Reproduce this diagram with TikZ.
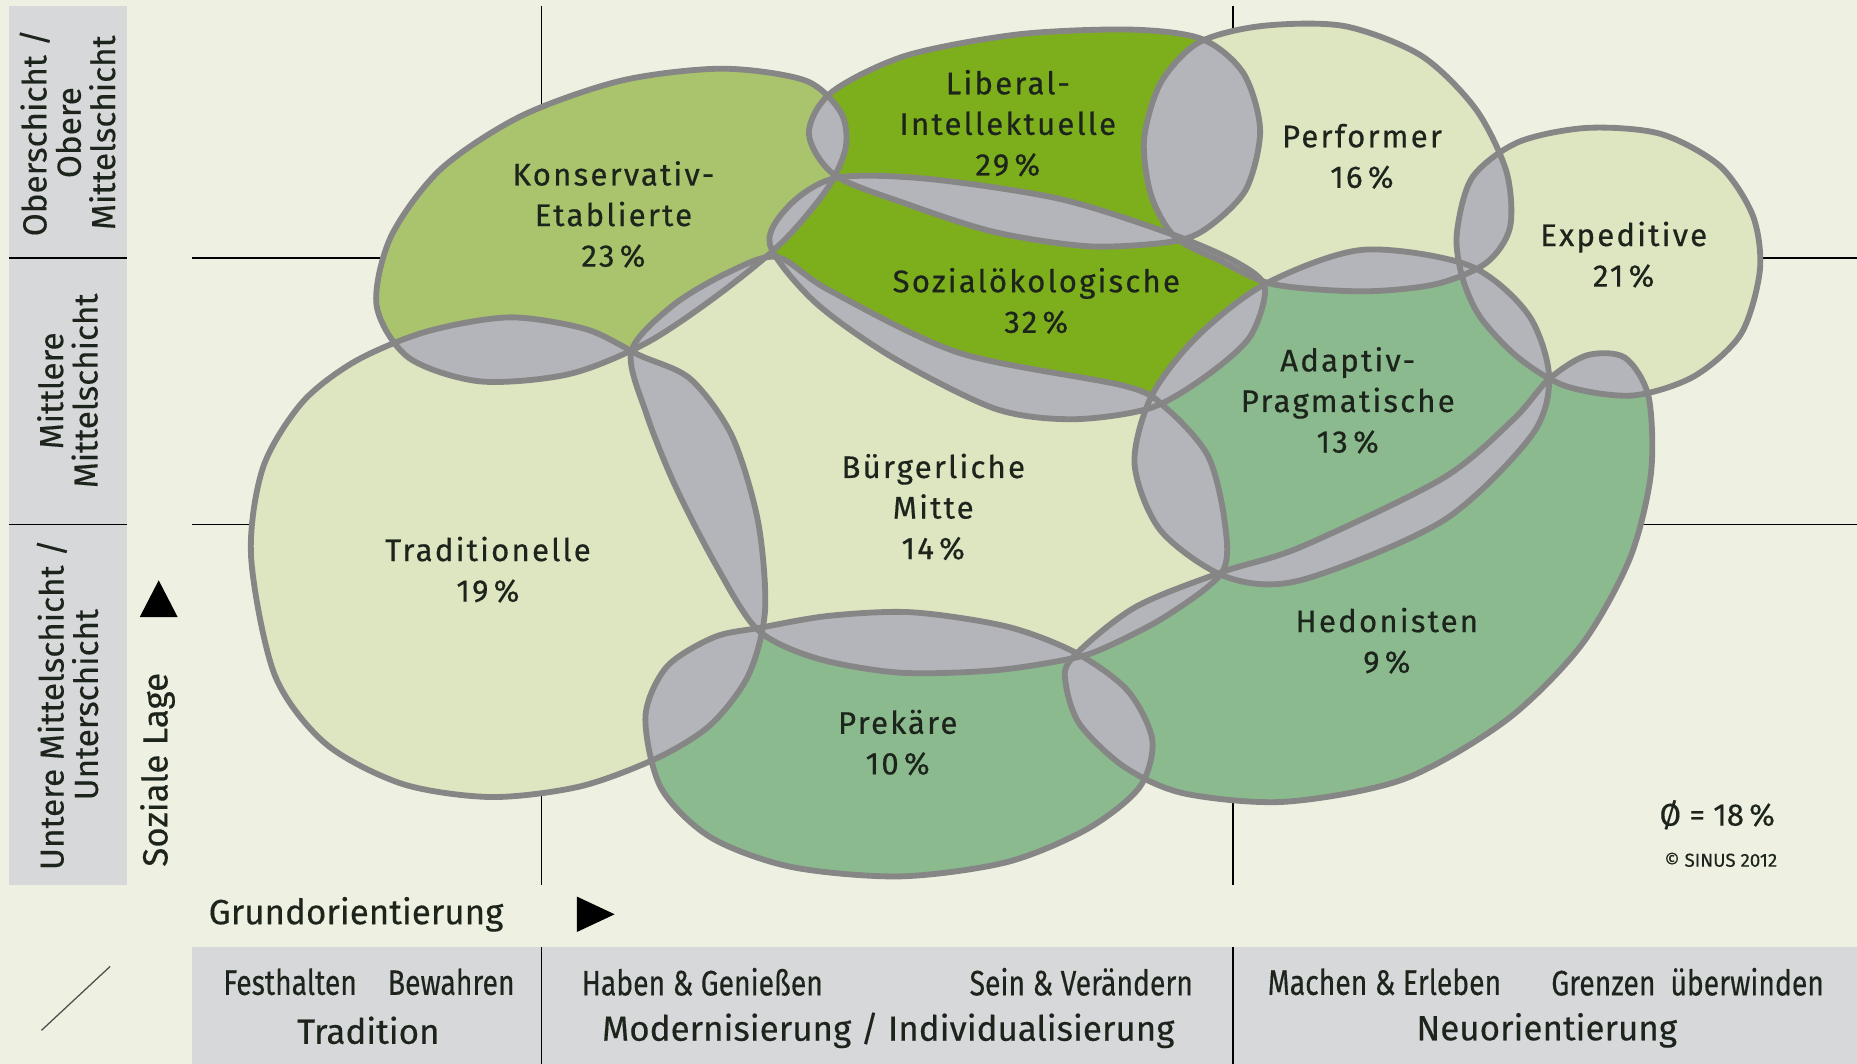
\documentclass[tikz,border=0pt]{standalone}
\usepackage{fontspec}
\setmainfont{Fira Sans}
\newfontfamily\milieufont[LetterSpace=7, FakeBold=0.5]{Fira Sans}
\newfontfamily\condfont[FakeStretch=0.8, FakeBold=0.3]{Fira Sans}
\newfontfamily\axisfont[FakeBold=0.3]{Fira Sans}
\usepackage{tikz}
\usetikzlibrary{positioning}
\definecolor{bgcolor}{RGB}{238, 241, 225}
\definecolor{palecolor}{RGB}{221, 229, 193}
\definecolor{konscolor}{RGB}{169, 196, 108}
\definecolor{brightcolor}{RGB}{125, 175, 28}
\definecolor{midcolor}{RGB}{139, 186, 143}
\definecolor{overlapcolor}{RGB}{180, 181, 187}
\definecolor{edgecolor}{RGB}{134, 134, 134}
\definecolor{barcolor}{RGB}{215, 216, 218}
\definecolor{textcolor}{RGB}{28, 36, 28}

% milieu outlines
\newcommand{\shapeKE}{plot[smooth cycle] coordinates {(318,258) (330,200) (372,143) (440,98) (525,68) (610,58) (680,68) (710,95) (714,125) (698,160) (660,205) (605,250) (545,290) (480,316) (405,322) (345,302)}}
\newcommand{\shapeLI}{plot[smooth cycle] coordinates {(683,113) (702,78) (765,47) (860,29) (955,25) (1015,33) (1050,62) (1064,110) (1052,160) (1020,192) (990,204) (920,208) (840,196) (765,172) (705,148)}}
\newcommand{\shapeSO}{plot[smooth cycle] coordinates {(650,206) (668,172) (707,150) (783,151) (895,168) (990,198) (1045,222) (1068,243) (1055,285) (1015,320) (970,345) (905,354) (840,345) (754,302) (688,255)}}
\newcommand{\shapePE}{plot[smooth cycle] coordinates {(966,118) (980,70) (1012,36) (1065,22) (1135,22) (1200,47) (1246,92) (1272,145) (1275,192) (1255,222) (1212,240) (1150,246) (1075,240) (1030,220) (992,200) (972,165)}}
\newcommand{\shapeEX}{plot[smooth cycle] coordinates {(1230,198) (1243,150) (1282,120) (1340,108) (1402,113) (1452,140) (1480,182) (1486,228) (1470,282) (1430,318) (1378,334) (1322,326) (1282,302) (1250,268) (1235,235)}}
\newcommand{\shapeAD}{plot[smooth cycle] coordinates {(958,392) (972,335) (1010,285) (1068,240) (1150,211) (1240,224) (1290,265) (1308,318) (1293,368) (1218,440) (1098,490) (1035,487) (980,448)}}
\newcommand{\shapeBM}{plot[smooth cycle] coordinates {(533,297) (568,258) (615,230) (656,217) (700,245) (810,298) (950,326) (985,345) (1020,385) (1034,440) (1032,483) (985,520) (935,546) (905,556) (840,566) (760,568) (690,556) (640,532) (605,478) (570,410) (546,350)}}
\newcommand{\shapeTR}{plot[smooth cycle] coordinates {(212,470) (222,395) (255,340) (300,305) (360,280) (430,268) (495,278) (540,300) (583,320) (618,368) (640,440) (646,515) (632,570) (600,612) (555,640) (490,664) (415,673) (340,662) (275,628) (232,570)}}
\newcommand{\shapePR}{plot[smooth cycle] coordinates {(545,605) (563,563) (603,538) (642,530) (700,520) (770,517) (850,529) (908,551) (952,583) (973,625) (962,665) (918,700) (850,728) (760,740) (668,732) (600,707) (558,665)}}
\newcommand{\shapeHE}{plot[smooth cycle] coordinates {(905,556) (958,513) (1032,483) (1098,462) (1218,404) (1278,354) (1308,320) (1340,300) (1372,302) (1392,335) (1394,400) (1376,472) (1335,545) (1272,608) (1185,658) (1085,677) (1000,670) (950,648) (912,612) (900,578)}}
\newcommand{\lensfill}[2]{\begin{scope}\clip #1; \fill[overlapcolor] #2; \end{scope}}

\begin{document}
\begin{tikzpicture}[
    x=0.2mm, y=-0.2mm,
    milieu/.style={align=center, text=textcolor, font=\milieufont\fontsize{15}{19.5}\selectfont},
    edge/.style={draw=edgecolor, line width=2.8pt},
    guide/.style={black, line width=0.7pt},
    axislabel/.style={align=center, text=textcolor, font=\axisfont\fontsize{16}{16.5}\selectfont},
    barlabel/.style={text=textcolor, font=\condfont\fontsize{17}{17}\selectfont},
    barhead/.style={text=textcolor, font=\axisfont\fontsize{16.8}{17}\selectfont}
]
    % Background
    \fill[bgcolor] (0,0) rectangle (1568,898);
    \useasboundingbox (0,0) rectangle (1568,898);

    % Side bar and bottom bar
    \fill[barcolor] (8,5) rectangle (107,747);
    \draw[guide] (8,218) -- (107,218);
    \draw[guide] (8,443) -- (107,443);
    \fill[barcolor] (162,800) rectangle (1568,898);
    \draw[guide] (457,800) -- (457,898);
    \draw[guide] (1041,800) -- (1041,898);
    \draw[black!70, line width=0.6pt] (35,870) -- (93,816);

    % Grid
    \draw[guide] (162,218) -- (1568,218);
    \draw[guide] (162,443) -- (1568,443);
    \draw[guide] (457,5) -- (457,747);
    \draw[guide] (1041,5) -- (1041,747);

    % Milieus
    \fill[palecolor] \shapeTR;
    \fill[palecolor] \shapeBM;
    \fill[palecolor] \shapePE;
    \fill[palecolor] \shapeEX;
    \fill[konscolor] \shapeKE;
    \fill[brightcolor] \shapeLI;
    \fill[brightcolor] \shapeSO;
    \fill[midcolor] \shapeAD;
    \fill[midcolor] \shapePR;
    \fill[midcolor] \shapeHE;

    % Overlaps
    \lensfill{\shapeKE}{\shapeLI}
    \lensfill{\shapeKE}{\shapeSO}
    \lensfill{\shapeKE}{\shapeTR}
    \lensfill{\shapeKE}{\shapeBM}
    \lensfill{\shapeLI}{\shapeSO}
    \lensfill{\shapeLI}{\shapePE}
    \lensfill{\shapeSO}{\shapePE}
    \lensfill{\shapeSO}{\shapeBM}
    \lensfill{\shapeSO}{\shapeAD}
    \lensfill{\shapePE}{\shapeAD}
    \lensfill{\shapePE}{\shapeEX}
    \lensfill{\shapeEX}{\shapeAD}
    \lensfill{\shapeEX}{\shapeHE}
    \lensfill{\shapeAD}{\shapeBM}
    \lensfill{\shapeAD}{\shapeHE}
    \lensfill{\shapeBM}{\shapeTR}
    \lensfill{\shapeBM}{\shapePR}
    \lensfill{\shapeBM}{\shapeHE}
    \lensfill{\shapeTR}{\shapePR}
    \lensfill{\shapePR}{\shapeHE}

    % Outlines
    \draw[edge] \shapeTR;
    \draw[edge] \shapeBM;
    \draw[edge] \shapePE;
    \draw[edge] \shapeEX;
    \draw[edge] \shapeKE;
    \draw[edge] \shapeLI;
    \draw[edge] \shapeSO;
    \draw[edge] \shapeAD;
    \draw[edge] \shapePR;
    \draw[edge] \shapeHE;

    % Labels
    \node[milieu] (kons) at (518,181) {Konservativ-\\Etablierte\\23\,\%};
    \node[milieu] (lib) at (851,104) {Liberal-\\Intellektuelle\\29\,\%};
    \node[milieu] (perf) at (1150,132) {Performer\\16\,\%};
    \node[milieu] (exp) at (1371,215) {Expeditive\\21\,\%};
    \node[milieu] (sozoek) at (875,254) {Sozialökologische\\32\,\%};
    \node[milieu] (adapt) at (1138,338) {Adaptiv-\\Pragmatische\\13\,\%};
    \node[milieu] (buerg) at (788,428) {Bürgerliche\\Mitte\\14\,\%};
    \node[milieu] (trad) at (412,481) {Traditionelle\\19\,\%};
    \node[milieu] (prek) at (758,627) {Prekäre\\10\,\%};
    \node[milieu] (hedon) at (1171,541) {Hedonisten\\9\,\%};

    % Axes
    \node[axislabel, rotate=90] (ober) at (57,112) {Oberschicht /\\Obere\\Mittelschicht};
    \node[axislabel, rotate=90] (mittel) at (57,330) {Mittlere\\Mittelschicht};
    \node[axislabel, rotate=90] (unter) at (57,595) {Untere Mittelschicht /\\Unterschicht};
    \node[barhead, rotate=90] (lage) at (133,650) {Soziale Lage};
    \fill[black] (134,490) -- (150,521) -- (118,521) -- cycle;
    \node[barhead, anchor=west] (grund) at (170,772) {Grundorientierung};
    \fill[black] (487,757) -- (519,772) -- (487,787) -- cycle;

    \node[barlabel] (fest) at (245,829) {Festhalten};
    \node[barlabel] (bewahr) at (381,829) {Bewahren};
    \node[barlabel] (haben) at (593,829) {Haben \& Genießen};
    \node[barlabel] (sein) at (913,829) {Sein \& Verändern};
    \node[barlabel] (machen) at (1169,829) {Machen \& Erleben};
    \node[barlabel] (grenz) at (1425,829) {Grenzen\ \ überwinden};
    \node[barhead] (tradition) at (311,870) {Tradition};
    \node[barhead] (modern) at (750,870) {Modernisierung / Individualisierung};
    \node[barhead] (neu) at (1306,870) {Neuorientierung};

    % Note
    \node[text=textcolor, font=\axisfont\fontsize{15}{15}\selectfont] (avg) at (1450,688) {Ø = 18\,\%};
    \node[text=textcolor, font=\axisfont\fontsize{9}{9}\selectfont] (copy) at (1453,726) {© SINUS 2012};
\end{tikzpicture}
\end{document}
